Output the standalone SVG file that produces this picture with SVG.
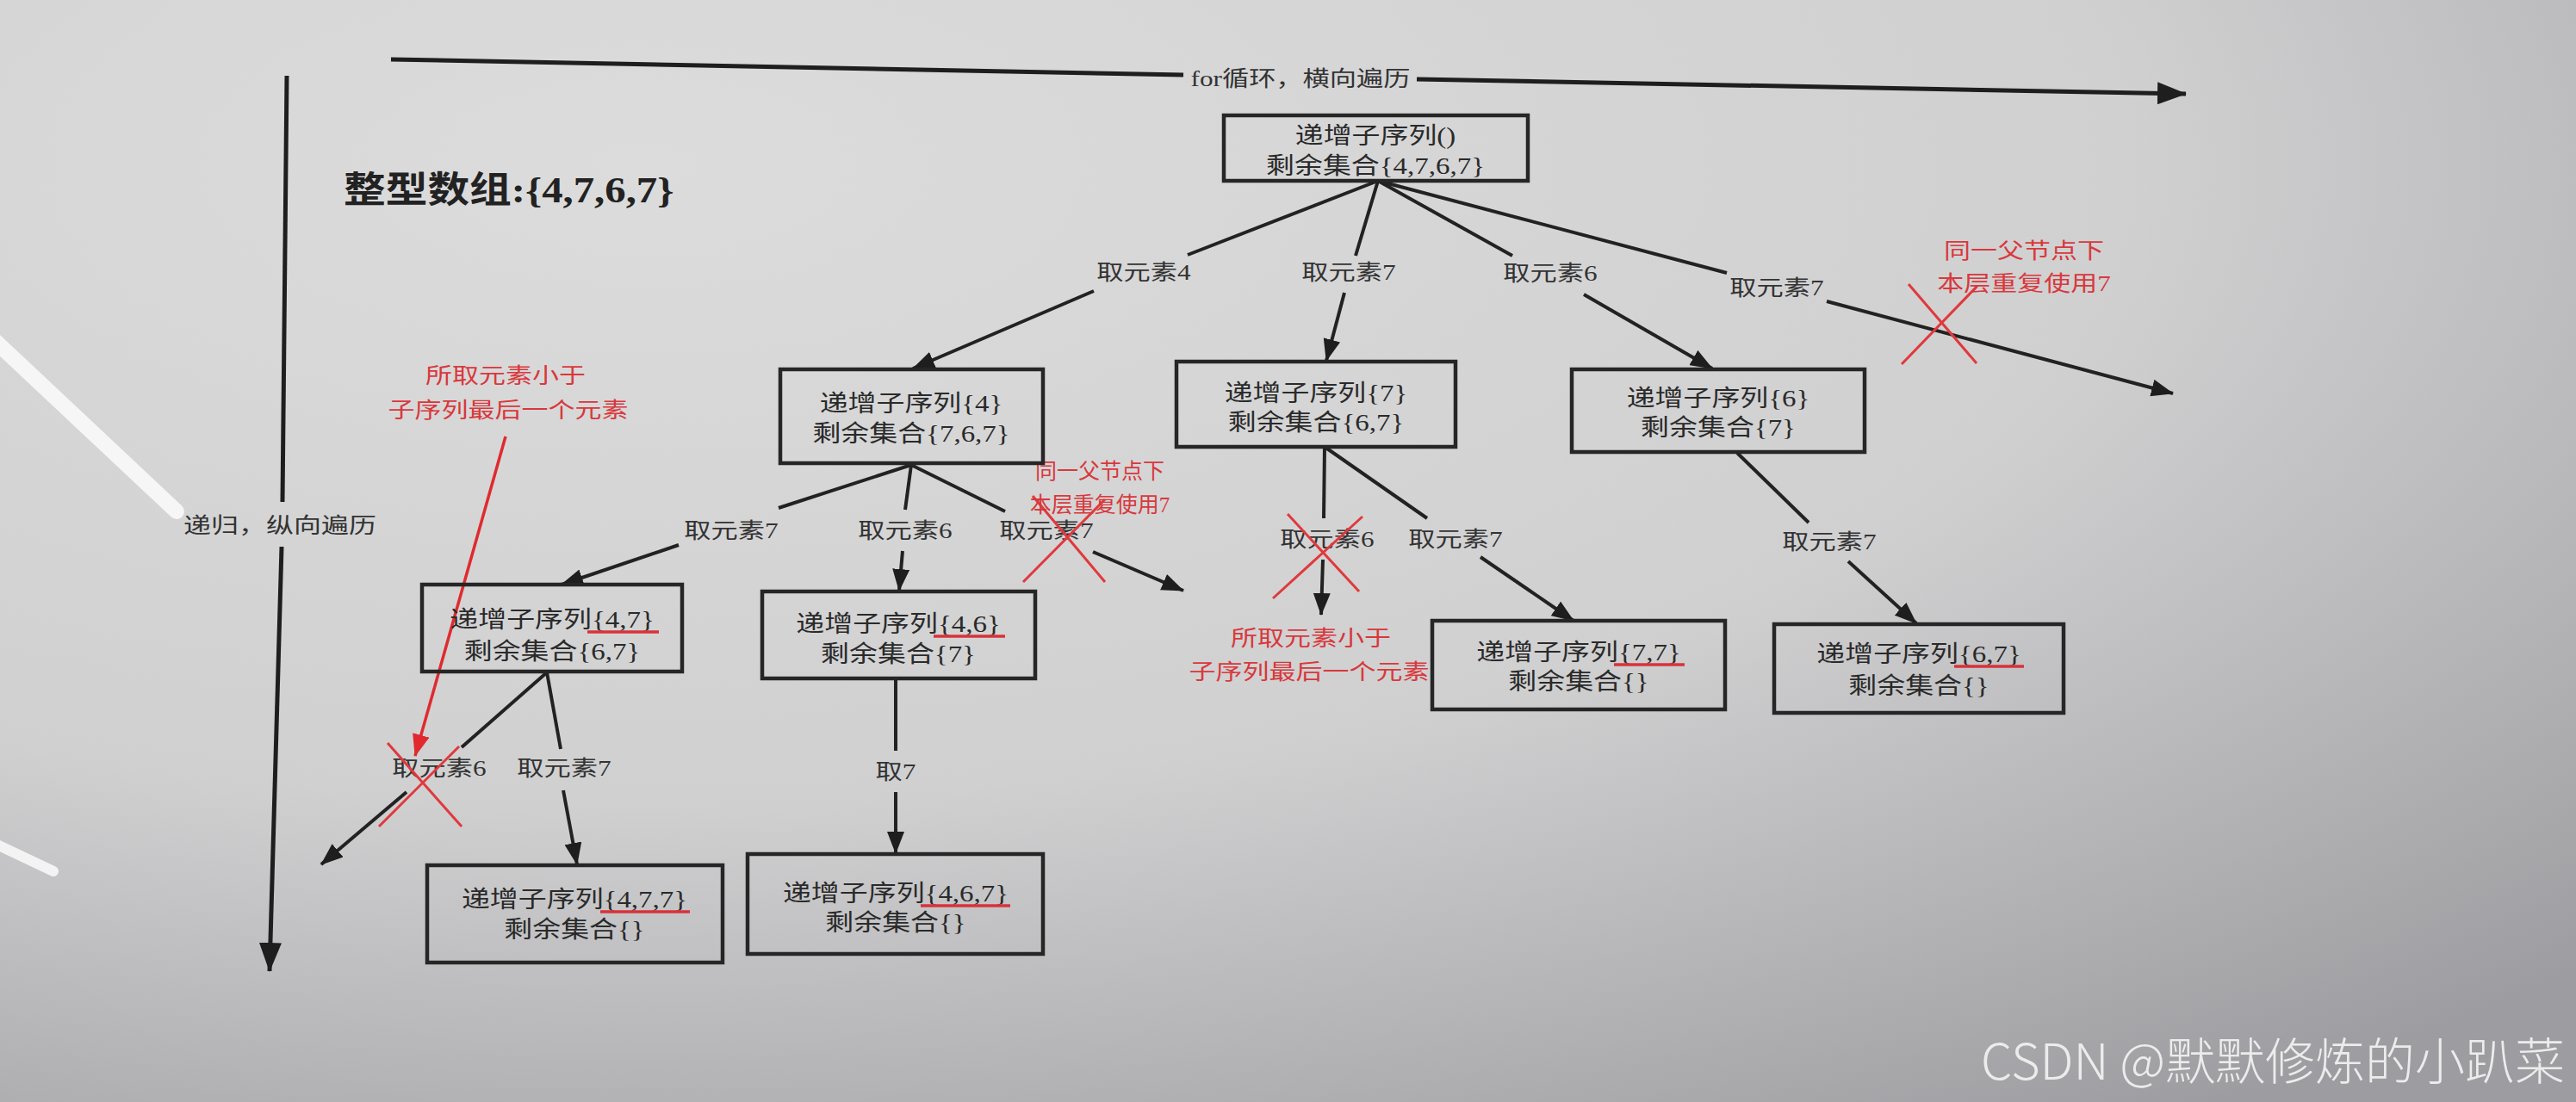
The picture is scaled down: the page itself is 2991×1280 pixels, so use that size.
<svg xmlns="http://www.w3.org/2000/svg" width="2991" height="1280" viewBox="0 0 2991 1280">
<defs>
<radialGradient id="bg" cx="0.25" cy="0.15" r="1.05" fx="0.25" fy="0.15">
<stop offset="0" stop-color="#dcdcdc"/>
<stop offset="0.55" stop-color="#d0d0d1"/>
<stop offset="1" stop-color="#9d9da1"/>
</radialGradient>
<marker id="ah" markerUnits="userSpaceOnUse" markerWidth="26" markerHeight="20" refX="25" refY="10" orient="auto">
<path d="M0,0 L26,10 L0,20 Z" fill="#1e1e1e"/>
</marker>
<marker id="ahb" markerUnits="userSpaceOnUse" markerWidth="34" markerHeight="26" refX="33" refY="13" orient="auto">
<path d="M0,0 L34,13 L0,26 Z" fill="#1e1e1e"/>
</marker>
<marker id="ahr" markerUnits="userSpaceOnUse" markerWidth="26" markerHeight="20" refX="25" refY="10" orient="auto">
<path d="M0,0 L26,10 L0,20 Z" fill="#e02a2e"/>
</marker>
<style>
.box{fill:none;stroke:#262626;stroke-width:4.5}
.nt{font-family:'Liberation Serif','Noto Sans CJK SC',serif;font-size:27px;fill:#2a2a2a;text-anchor:middle;dominant-baseline:central}
.el{font-family:'Liberation Serif','Noto Sans CJK SC',serif;font-size:25px;fill:#333;text-anchor:middle;dominant-baseline:central}
.rt{font-family:'Liberation Serif','Noto Sans CJK SC',serif;font-size:25px;fill:#d8383c;text-anchor:middle;dominant-baseline:central}
.hd{font-family:'Liberation Serif','Noto Sans CJK SC',serif;font-size:42px;font-weight:bold;fill:#222;dominant-baseline:central}
.e{stroke:#222;stroke-width:4;fill:none}
.ea{stroke:#222;stroke-width:4;fill:none;marker-end:url(#ah)}
.ax{stroke:#1e1e1e;stroke-width:5;fill:none}
.x{stroke:#e0393c;stroke-width:3;fill:none}
.ul{stroke:#d8323a;stroke-width:3.5;fill:none}
.wm{font-family:'Noto Sans CJK SC','Noto Sans',sans-serif;font-size:58px;font-weight:300;fill:#ececec}
</style>
</defs>
<rect x="0" y="0" width="2991" height="1280" fill="url(#bg)"/>
<g id="glare" stroke="#fafafa" stroke-linecap="round" fill="none">
<line x1="-10" y1="392" x2="205" y2="594" stroke-width="18" opacity="0.9"/>
<line x1="-10" y1="978" x2="62" y2="1012" stroke-width="12" opacity="0.85"/>
</g>
<g id="axes">
<line class="ax" x1="454" y1="69" x2="1374" y2="87"/>
<line class="ax" x1="1645" y1="92" x2="2538" y2="109" marker-end="url(#ahb)"/>
<text class="el" transform="translate(1510 92) scale(1.25 1)">for循环，横向遍历</text>
<line class="ax" stroke-width="4" x1="333" y1="88" x2="328" y2="583"/>
<line class="ax" stroke-width="4" x1="327" y1="635" x2="313" y2="1128" marker-end="url(#ahb)"/>
<text class="el" transform="translate(325 610) scale(1.28 1)">递归，纵向遍历</text>
</g>
<g id="title">
<text class="hd" transform="translate(399 221) scale(1.16 1)">整型数组:{4,7,6,7}</text>
</g>
<g id="connectors">
<line class="e" x1="1600" y1="210" x2="1379" y2="296"/>
<text class="el" transform="translate(1328 317) scale(1.25 1)">取元素4</text>
<line class="ea" x1="1270" y1="338" x2="1060" y2="428"/>
<line class="e" x1="1600" y1="210" x2="1574" y2="297"/>
<text class="el" transform="translate(1566 317) scale(1.25 1)">取元素7</text>
<line class="ea" x1="1561" y1="340" x2="1540" y2="419"/>
<line class="e" x1="1600" y1="210" x2="1756" y2="297"/>
<text class="el" transform="translate(1800 318) scale(1.25 1)">取元素6</text>
<line class="ea" x1="1839" y1="342" x2="1988" y2="428"/>
<line class="e" x1="1600" y1="210" x2="2005" y2="317"/>
<text class="el" transform="translate(2063 335) scale(1.25 1)">取元素7</text>
<line class="ea" x1="2121" y1="350" x2="2523" y2="457"/>
<line class="e" x1="1058" y1="540" x2="904" y2="590"/>
<text class="el" transform="translate(849 617) scale(1.25 1)">取元素7</text>
<line class="ea" x1="788" y1="633" x2="652" y2="679"/>
<line class="e" x1="1058" y1="540" x2="1051" y2="592"/>
<text class="el" transform="translate(1051 617) scale(1.25 1)">取元素6</text>
<line class="ea" x1="1048" y1="640" x2="1044" y2="686"/>
<line class="e" x1="1058" y1="540" x2="1167" y2="594"/>
<text class="el" transform="translate(1215 617) scale(1.25 1)">取元素7</text>
<line class="ea" x1="1269" y1="641" x2="1374" y2="686"/>
<line class="e" x1="1538" y1="519" x2="1537" y2="602"/>
<text class="el" transform="translate(1541 627) scale(1.25 1)">取元素6</text>
<line class="ea" x1="1536" y1="650" x2="1534" y2="714"/>
<line class="e" x1="1538" y1="519" x2="1657" y2="602"/>
<text class="el" transform="translate(1690 627) scale(1.25 1)">取元素7</text>
<line class="ea" x1="1719" y1="647" x2="1827" y2="721"/>
<line class="e" x1="2017" y1="526" x2="2100" y2="607"/>
<text class="el" transform="translate(2124 630) scale(1.25 1)">取元素7</text>
<line class="ea" x1="2146" y1="652" x2="2225" y2="724"/>
<line class="e" x1="635" y1="781" x2="536" y2="868"/>
<text class="el" transform="translate(510 893) scale(1.25 1)">取元素6</text>
<line class="ea" x1="472" y1="920" x2="373" y2="1004"/>
<line class="e" x1="635" y1="781" x2="651" y2="870"/>
<text class="el" transform="translate(655 893) scale(1.25 1)">取元素7</text>
<line class="ea" x1="654" y1="918" x2="670" y2="1004"/>
<line class="e" x1="1040" y1="790" x2="1040" y2="872"/>
<text class="el" transform="translate(1040 897) scale(1.25 1)">取7</text>
<line class="ea" x1="1040" y1="920" x2="1040" y2="991"/>
</g>
<g id="annotations">
<line class="x" x1="2216" y1="330" x2="2295" y2="422"/>
<line class="x" x1="2295" y1="333" x2="2208" y2="423"/>
<text class="rt" transform="translate(2350 292) scale(1.24 1)">同一父节点下</text>
<text class="rt" transform="translate(2350 330) scale(1.24 1)">本层重复使用7</text>
<line class="x" x1="1199" y1="576" x2="1283" y2="676"/>
<line class="x" x1="1283" y1="580" x2="1188" y2="676"/>
<text class="rt" transform="translate(1277 547) scale(1.0 1)">同一父节点下</text>
<text class="rt" transform="translate(1277 586) scale(1.0 1)">本层重复使用7</text>
<line class="x" x1="1495" y1="597" x2="1578" y2="687"/>
<line class="x" x1="1582" y1="600" x2="1478" y2="695"/>
<text class="rt" transform="translate(1522 742) scale(1.24 1)">所取元素小于</text>
<text class="rt" transform="translate(1520 781) scale(1.24 1)">子序列最后一个元素</text>
<line class="x" x1="450" y1="863" x2="536" y2="960"/>
<line class="x" x1="533" y1="867" x2="440" y2="960"/>
<text class="rt" transform="translate(587 437) scale(1.24 1)">所取元素小于</text>
<text class="rt" transform="translate(590 477) scale(1.24 1)">子序列最后一个元素</text>
<line stroke="#e02a2e" stroke-width="3.5" x1="587" y1="507" x2="482" y2="878" marker-end="url(#ahr)"/>
</g>
<g id="n-root">
<rect class="box" x="1421" y="134" width="353" height="76"/>
<text class="nt" transform="translate(1597 158) scale(1.22 1)">递增子序列()</text>
<text class="nt" transform="translate(1597 193) scale(1.22 1)">剩余集合{4,7,6,7}</text>
</g>
<g id="n-4">
<rect class="box" x="906" y="429" width="305" height="109"/>
<text class="nt" transform="translate(1058 469) scale(1.22 1)">递增子序列{4}</text>
<text class="nt" transform="translate(1058 504) scale(1.22 1)">剩余集合{7,6,7}</text>
</g>
<g id="n-7">
<rect class="box" x="1366" y="420" width="324" height="99"/>
<text class="nt" transform="translate(1528 457) scale(1.22 1)">递增子序列{7}</text>
<text class="nt" transform="translate(1528 491) scale(1.22 1)">剩余集合{6,7}</text>
</g>
<g id="n-6">
<rect class="box" x="1825" y="429" width="340" height="96"/>
<text class="nt" transform="translate(1995 463) scale(1.22 1)">递增子序列{6}</text>
<text class="nt" transform="translate(1995 497) scale(1.22 1)">剩余集合{7}</text>
</g>
<g id="n-47">
<rect class="box" x="490" y="679" width="302" height="101"/>
<text class="nt" transform="translate(641 720) scale(1.22 1)">递增子序列{4,7}</text>
<text class="nt" transform="translate(641 757) scale(1.22 1)">剩余集合{6,7}</text>
<line class="ul" x1="682" y1="734" x2="765" y2="734"/>
</g>
<g id="n-46">
<rect class="box" x="885" y="687" width="317" height="101"/>
<text class="nt" transform="translate(1043 725) scale(1.22 1)">递增子序列{4,6}</text>
<text class="nt" transform="translate(1043 760) scale(1.22 1)">剩余集合{7}</text>
<line class="ul" x1="1084" y1="739" x2="1167" y2="739"/>
</g>
<g id="n-77">
<rect class="box" x="1663" y="721" width="340" height="103"/>
<text class="nt" transform="translate(1833 758) scale(1.22 1)">递增子序列{7,7}</text>
<text class="nt" transform="translate(1833 792) scale(1.22 1)">剩余集合{}</text>
<line class="ul" x1="1874" y1="772" x2="1956" y2="772"/>
</g>
<g id="n-67">
<rect class="box" x="2060" y="725" width="336" height="103"/>
<text class="nt" transform="translate(2228 760) scale(1.22 1)">递增子序列{6,7}</text>
<text class="nt" transform="translate(2228 797) scale(1.22 1)">剩余集合{}</text>
<line class="ul" x1="2269" y1="774" x2="2350" y2="774"/>
</g>
<g id="n-477">
<rect class="box" x="496" y="1005" width="343" height="113"/>
<text class="nt" transform="translate(667 1045) scale(1.22 1)">递增子序列{4,7,7}</text>
<text class="nt" transform="translate(667 1080) scale(1.22 1)">剩余集合{}</text>
<line class="ul" x1="697" y1="1059" x2="801" y2="1059"/>
</g>
<g id="n-467">
<rect class="box" x="868" y="992" width="343" height="116"/>
<text class="nt" transform="translate(1040 1038) scale(1.22 1)">递增子序列{4,6,7}</text>
<text class="nt" transform="translate(1040 1072) scale(1.22 1)">剩余集合{}</text>
<line class="ul" x1="1069" y1="1052" x2="1173" y2="1052"/>
</g>
<text class="wm" x="2300" y="1254" textLength="678" lengthAdjust="spacingAndGlyphs">CSDN @默默修炼的小趴菜</text>
</svg>
